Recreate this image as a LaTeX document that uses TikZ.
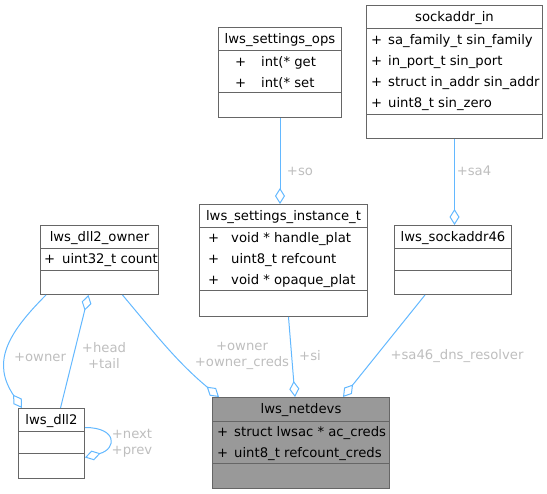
\documentclass[tikz,border=0pt]{standalone}
\usepackage{fontspec}
\setmainfont{DejaVu Sans}
\usetikzlibrary{arrows.meta,positioning,calc}
\definecolor{edgeblue}{HTML}{63B8FF}
\definecolor{boxline}{HTML}{666666}
\definecolor{mainfill}{HTML}{999999}
\definecolor{labelgrey}{HTML}{BEBEBE}
\tikzset{
  classbox/.style={draw=boxline, line width=1pt, rectangle, inner sep=0pt, anchor=north west},
  mainbox/.style={classbox, fill=mainfill},
  boxsep/.style={draw=boxline, line width=1pt},
  titletext/.style={inner sep=0pt, anchor=base},
  membertext/.style={inner sep=0pt, anchor=base west},
  rel/.style={draw=edgeblue, line width=1pt, -{Diamond[open,length=16pt,width=10pt]}},
  relback/.style={draw=edgeblue, line width=1pt, {Diamond[open,length=16pt,width=10pt]}-},
  rellabel/.style={text=labelgrey, align=center, inner sep=0pt}
}

\begin{document}
\begin{tikzpicture}[x=1pt,y=-1pt,font=\fontsize{13.2}{16}\selectfont]
  \useasboundingbox (0,0) rectangle (547,494);

  % lws_settings_ops
  \node[classbox, minimum width=123pt, minimum height=90pt] (ops) at (218,27) {};
  \draw[boxsep] ($(ops.north west)+(0,24)$) -- ($(ops.north east)+(0,24)$);
  \draw[boxsep] ($(ops.north west)+(0,66)$) -- ($(ops.north east)+(0,66)$);
  \node[titletext] (ops-t) at ($(ops.north)+(0,17)$) {lws\_settings\_ops};
  \foreach \txt [count=\i] in {int(* get,int(* set} {
    \node[membertext] (ops-p\i) at (235,46+21*\i) {+};
    \node[membertext] (ops-m\i) at (261,46+21*\i) {\txt};
  }

  % sockaddr_in
  \node[classbox, minimum width=176pt, minimum height=133pt] (sin) at (366,5) {};
  \draw[boxsep] ($(sin.north west)+(0,24)$) -- ($(sin.north east)+(0,24)$);
  \draw[boxsep] ($(sin.north west)+(0,110)$) -- ($(sin.north east)+(0,110)$);
  \node[titletext] (sin-t) at ($(sin.north)+(0,17)$) {sockaddr\_in};
  \foreach \txt [count=\i] in {sa\_family\_t sin\_family,in\_port\_t sin\_port,
      struct in\_addr sin\_addr,uint8\_t sin\_zero} {
    \node[membertext] (sin-p\i) at (371,24+21*\i) {+};
    \node[membertext] (sin-m\i) at (388,24+21*\i) {\txt};
  }

  % lws_settings_instance_t
  \node[classbox, minimum width=168pt, minimum height=112pt] (inst) at (199,204) {};
  \draw[boxsep] ($(inst.north west)+(0,24)$) -- ($(inst.north east)+(0,24)$);
  \draw[boxsep] ($(inst.north west)+(0,87)$) -- ($(inst.north east)+(0,87)$);
  \node[titletext] (inst-t) at ($(inst.north)+(0,17)$) {lws\_settings\_instance\_t};
  \foreach \txt [count=\i] in {void * handle\_plat,uint8\_t refcount,void * opaque\_plat} {
    \node[membertext] (inst-p\i) at (208,222+21*\i) {+};
    \node[membertext] (inst-m\i) at (231,222+21*\i) {\txt};
  }

  % lws_sockaddr46
  \node[classbox, minimum width=117pt, minimum height=69pt] (s46) at (394,225) {};
  \draw[boxsep] ($(s46.north west)+(0,24)$) -- ($(s46.north east)+(0,24)$);
  \draw[boxsep] ($(s46.north west)+(0,46)$) -- ($(s46.north east)+(0,46)$);
  \node[titletext] (s46-t) at ($(s46.north)+(0,17)$) {lws\_sockaddr46};

  % lws_dll2_owner
  \node[classbox, minimum width=118pt, minimum height=69pt] (own) at (40,225) {};
  \draw[boxsep] ($(own.north west)+(0,24)$) -- ($(own.north east)+(0,24)$);
  \draw[boxsep] ($(own.north west)+(0,46)$) -- ($(own.north east)+(0,46)$);
  \node[titletext] (own-t) at ($(own.north)+(0,17)$) {lws\_dll2\_owner};
  \node[membertext] (own-p1) at (44,264) {+};
  \node[membertext] (own-m1) at (62,264) {uint32\_t count};

  % lws_dll2
  \node[classbox, minimum width=66pt, minimum height=70pt] (dll) at (18,408) {};
  \draw[boxsep] ($(dll.north west)+(0,24)$) -- ($(dll.north east)+(0,24)$);
  \draw[boxsep] ($(dll.north west)+(0,46)$) -- ($(dll.north east)+(0,46)$);
  \node[titletext] (dll-t) at ($(dll.north)+(0,17)$) {lws\_dll2};

  % lws_netdevs
  \node[mainbox, minimum width=177pt, minimum height=91pt] (net) at (212,397) {};
  \draw[boxsep] ($(net.north west)+(0,25)$) -- ($(net.north east)+(0,25)$);
  \draw[boxsep] ($(net.north west)+(0,67)$) -- ($(net.north east)+(0,67)$);
  \node[titletext] (net-t) at ($(net.north)+(0,17)$) {lws\_netdevs};
  \foreach \txt [count=\i] in {struct lwsac * ac\_creds,uint8\_t refcount\_creds} {
    \node[membertext] (net-p\i) at (217,416+21*\i) {+};
    \node[membertext] (net-m\i) at (234,416+21*\i) {\txt};
  }

  % relations
  \draw[rel] (ops.south) -- (ops.south |- inst.north);
  \node[rellabel] (so-l) at (300,171) {+so};
  \draw[rel] (sin.south) -- (sin.south |- s46.north);
  \node[rellabel] (sa4-l) at (474,171) {+sa4};
  \draw[rel] ($(inst.south)+(5,0)$) -- ($(net.north)+(-6,0)$);
  \node[rellabel] (si-l) at (310,356) {+si};
  \draw[rel] ($(s46.south)+(-28,0)$) -- ($(net.north)+(42,0)$);
  \node[rellabel] (sa46-l) at (457,356) {+sa46\_dns\_resolver};
  \draw[rel] ($(own.south)+(23,0)$) to[out=-50,in=140] ($(net.north west)+(7,0)$);
  \node[rellabel] (ownc-l) at (242,356) {+owner\\+owner\_creds};
  \draw[relback] ($(own.south)+(-11,0)$) -- ($(dll.north)+(9,0)$);
  \node[rellabel] (ht-l) at (104,356) {+head\\+tail};
  \draw[rel] ($(own.south west)+(6,0)$) .. controls +(-40,40) and +(-30,-45) .. ($(dll.north west)+(4,0)$);
  \node[rellabel] (own-l) at (40,357) {+owner};
  \draw[rel] ($(dll.east)+(0,-16)$) to[out=0,in=15,looseness=2.8] ($(dll.east)+(0,14)$);
  \node[rellabel] (np-l) at (132,443) {+next\\+prev};
\end{tikzpicture}
\end{document}
